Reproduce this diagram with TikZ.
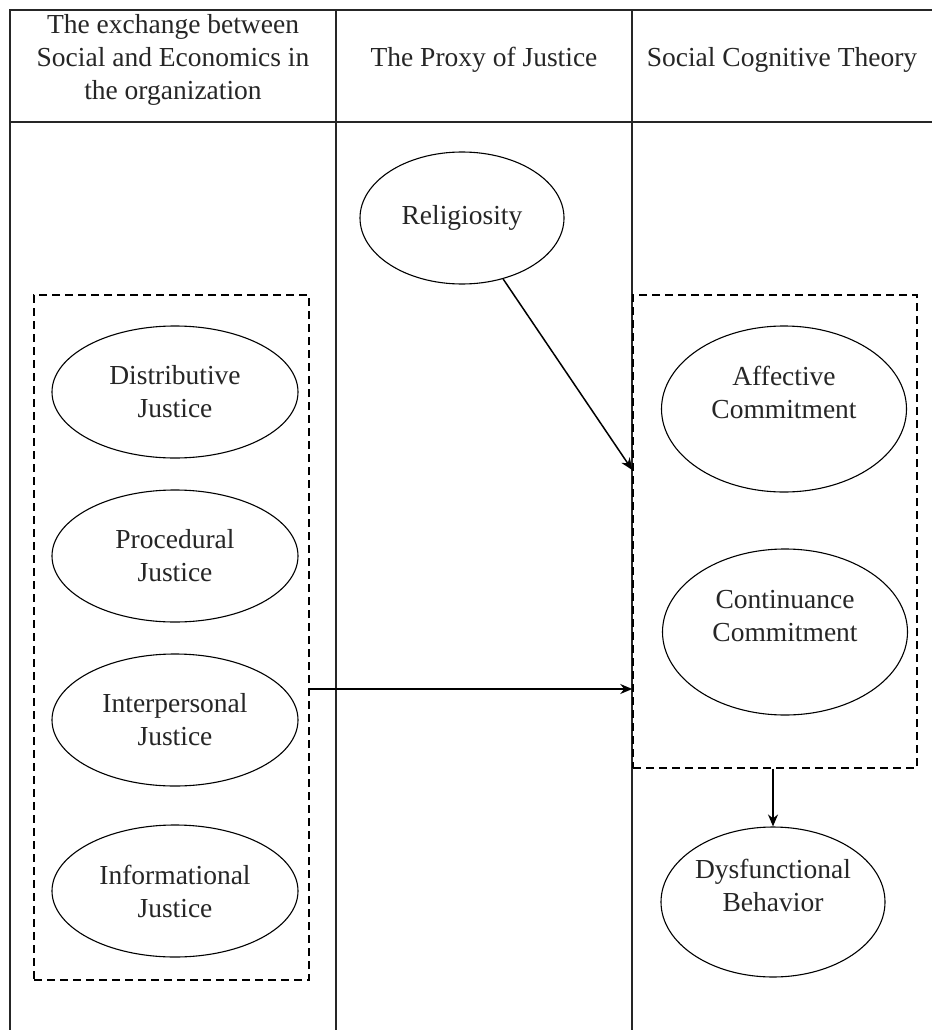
\documentclass[tikz,border=0pt]{standalone}
\usepackage{fontspec}
\setmainfont{Liberation Serif}
\usetikzlibrary{shapes.geometric,arrows.meta}
\begin{document}
\begin{tikzpicture}[x=1pt,y=-1pt,
  font=\fontsize{27.5}{33}\selectfont,
  tline/.style={line width=1.5pt,black!85},
  ell/.style={draw,ellipse,line width=1.1pt,inner sep=0pt,align=center,text=black!85},
  dbox/.style={draw,rectangle,line width=1.5pt,dash pattern=on 8pt off 5pt,inner sep=0pt},
  htext/.style={align=center,inner sep=0pt,text=black!85},
  arr/.style={line width=1.5pt,-{Stealth[length=12pt,width=10pt]}}]
\useasboundingbox (0,0) rectangle (932,1030);
\fill[white] (0,0) rectangle (932,1030);
% table
\draw[tline] (10,1030) -- (10,10) -- (932,10);
\draw[tline] (10,122) -- (932,122);
\draw[tline] (336,10) -- (336,1030);
\draw[tline] (632,10) -- (632,1030);
% headers
\node[htext] (h1) at (173,60) {The exchange between\\Social and Economics in\\the organization};
\node[htext] (h2) at (484,60) {The Proxy of Justice};
\node[htext] (h3) at (782,60) {Social Cognitive Theory};
% left group
\node[dbox,minimum width=275pt,minimum height=685pt] (lbox) at (171.5,637.5) {};
\node[ell,minimum width=246pt,minimum height=132pt] (dis) at (175,392) {Distributive\\Justice};
\node[ell,minimum width=246pt,minimum height=132pt] (pro) at (175,556) {Procedural\\Justice};
\node[ell,minimum width=246pt,minimum height=132pt] (int) at (175,720) {Interpersonal\\Justice};
\node[ell,minimum width=246pt,minimum height=132pt] (inf) at (175,891) {Informational\\Justice};
% middle
\node[ell,minimum width=204pt,minimum height=132pt] (rel) at (462,218) {Religiosity};
% right group
\node[dbox,minimum width=284pt,minimum height=473pt] (rbox) at (775,531.5) {};
\node[ell,minimum width=245pt,minimum height=166pt] (aff) at (784,409) {Affective\\Commitment\\\mbox{}};
\node[ell,minimum width=245pt,minimum height=166pt] (con) at (785,632) {Continuance\\Commitment\\\mbox{}};
\node[ell,minimum width=224pt,minimum height=150pt] (dys) at (773,902) {Dysfunctional\\Behavior\\\mbox{}};
% connectors
\draw[arr] (rel.-56) -- ([yshift=61.5pt]rbox.west);
\draw[arr] ([yshift=-51.5pt]lbox.east) -- ([yshift=-51.5pt]lbox.east -| rbox.west);
\draw[arr] (rbox.south -| dys.north) -- (dys.north);
\end{tikzpicture}
\end{document}
